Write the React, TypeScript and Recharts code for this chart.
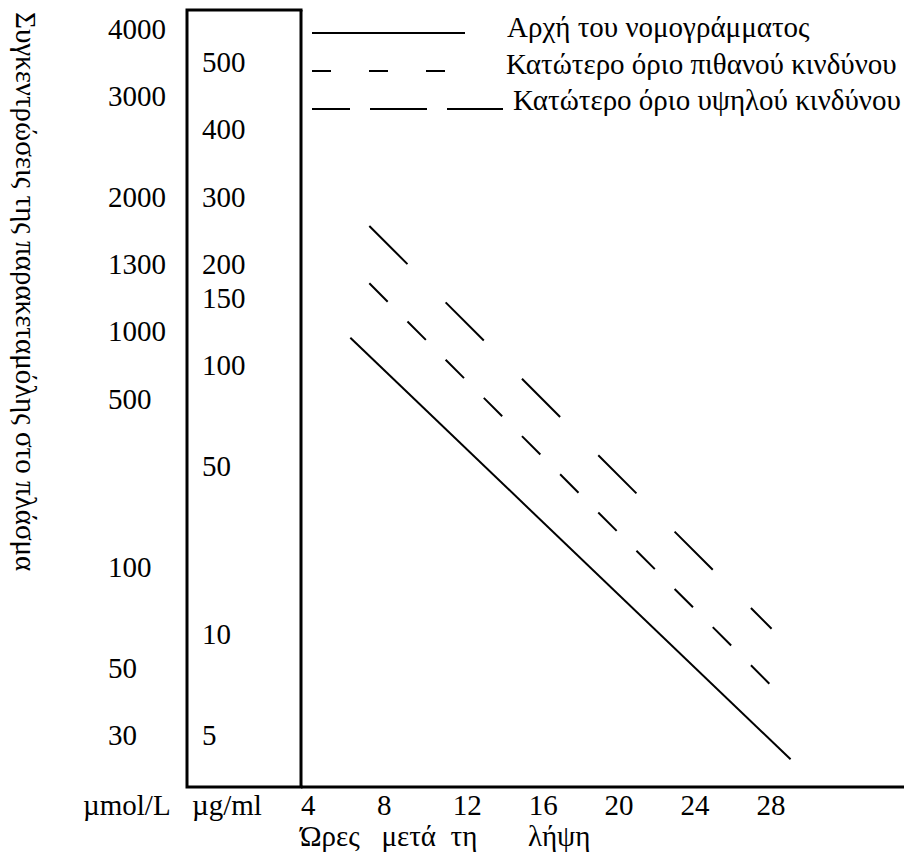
import React from 'react';
import { LineChart, Line, XAxis, YAxis, Legend } from 'recharts';

const FONT = '"Liberation Serif", "Times New Roman", serif';

// hours after ingestion
const hourTicks = [4, 8, 12, 16, 20, 24, 28];

// the two concentration columns sit on text rows, not on a true scale
const umolLabels = ['4000', '3000', '2000', '1300', '1000', '500', '100', '50', '30'];
const umolRows = [0, 2, 5, 7, 9, 11, 16, 19, 21];
const ugLabels = ['500', '400', '300', '200', '150', '100', '50', '10', '5'];
const ugRows = [1, 3, 5, 7, 8, 10, 13, 18, 21];

const seriesNames = [
  'Αρχή του νομογράμματος',
  'Κατώτερο όριο πιθανού κινδύνου',
  'Κατώτερο όριο υψηλού κινδύνου',
];

// line end points: hours, µg/ml
const nomogramHours = [6.6, 29.8];
const nomogramConc = [118, 4.3];
const probableHours = [7.6, 28.8];
const probableConc = [181, 7.65];
const highHours = [7.6, 28.8];
const highConc = [284, 12];

const toPoints = (hs: number[], cs: number[]) => hs.map((h, i) => ({ h, c: cs[i] }));

const txt = { fontFamily: FONT, fontSize: 29, fill: '#000' };

const rowTick = (labels: string[], rows: number[]) => (props: any) => {
  const { x, y, payload } = props;
  const i = rows.findIndex((r) => Math.abs(r - payload.value) < 1e-6);
  return (
    <text x={x} y={y} textAnchor="start" dominantBaseline="central" {...txt}>
      {labels[i]}
    </text>
  );
};

const HourTick = (props: any) => {
  const { x, y, payload } = props;
  return (
    <text x={x} y={y} textAnchor="start" dominantBaseline="central" {...txt}>
      {payload.value}
    </text>
  );
};

const UmolDecor = (props: any) => {
  const { x, y, height } = props.viewBox;
  return (
    <g>
      <text transform={`translate(${x + 8}, ${y + 2}) rotate(90)`} textAnchor="start" {...txt}>
        Συγκεντρώσεις της παρακεταμόλης στο πλάσμα
      </text>
      <text x={x + 75} y={y + height + 18} dominantBaseline="central" {...txt}>
        µmol/L
      </text>
    </g>
  );
};

const UgDecor = (props: any) => {
  const { x, y, width, height } = props.viewBox;
  return (
    <g>
      <path
        d={`M${x + width},${y} H${x} V${y + height} H${x + width}`}
        stroke="#000"
        strokeWidth={3}
        fill="none"
        strokeLinecap="square"
      />
      <text x={x + 5} y={y + height + 18} dominantBaseline="central" {...txt}>
        µg/ml
      </text>
    </g>
  );
};

const HourLabel = (props: any) => {
  const { x, y } = props.viewBox;
  return (
    <text x={x - 1} y={y + 59} style={{ whiteSpace: 'pre' }} {...txt}>
      {'Ώρες   μετά  τη       λήψη'}
    </text>
  );
};

const legendDash = [undefined, '19 38', '38 20 57 20 56 100'];
const legendEnd = [457, 438, 495];
const legendTextX = [499, 498, 505];

const renderLegend = (props: any) => {
  const payload = props.payload || [];
  return (
    <svg width={904} height={125} style={{ display: 'block' }}>
      {payload.map((entry: any) => {
        const i = seriesNames.indexOf(entry.value);
        return (
          <g key={entry.value}>
            <line
              x1={304}
              x2={legendEnd[i]}
              y1={25 + 38 * i}
              y2={25 + 38 * i}
              stroke="#000"
              strokeWidth={2}
              strokeDasharray={legendDash[i]}
            />
            <text x={legendTextX[i]} y={29 + 36.5 * i} {...txt}>
              {entry.value}
            </text>
          </g>
        );
      })}
    </svg>
  );
};

const frame = { stroke: '#000', strokeWidth: 3 };

export default function App() {
  return (
    <LineChart width={904} height={847} margin={{ top: 2, right: 0, bottom: 0, left: 0 }}>
      <XAxis
        xAxisId="h"
        type="number"
        dataKey="h"
        domain={[4, 36.2]}
        allowDataOverflow
        ticks={hourTicks}
        interval={0}
        tickLine={false}
        tickSize={0}
        tickMargin={18}
        tick={HourTick}
        axisLine={frame}
        height={68}
        label={HourLabel}
      />
      <XAxis
        xAxisId="top"
        orientation="top"
        type="number"
        domain={[4, 36.2]}
        allowDataOverflow
        tick={false}
        tickLine={false}
        axisLine={frame}
        height={0}
      />
      <YAxis
        yAxisId="ug"
        type="number"
        domain={[-0.55, 22.54]}
        allowDataOverflow
        reversed
        ticks={ugRows}
        interval={0}
        width={114}
        tickLine={false}
        tickSize={0}
        tickMargin={99}
        tick={rowTick(ugLabels, ugRows)}
        axisLine={frame}
        label={UgDecor}
      />
      <YAxis
        yAxisId="umol"
        type="number"
        domain={[-0.55, 22.54]}
        allowDataOverflow
        reversed
        ticks={umolRows}
        interval={0}
        width={179}
        tickLine={false}
        tickSize={0}
        tickMargin={79}
        tick={rowTick(umolLabels, umolRows)}
        axisLine={false}
        label={UmolDecor}
      />
      <YAxis
        yAxisId="conc"
        orientation="right"
        type="number"
        scale="log"
        domain={[3.46, 1549]}
        allowDataOverflow
        hide
      />
      <Legend
        layout="vertical"
        align="center"
        verticalAlign="middle"
        wrapperStyle={{ top: 0, left: 0, width: 904, height: 125 }}
        content={renderLegend}
      />
      <Line
        xAxisId="h"
        yAxisId="conc"
        data={toPoints(nomogramHours, nomogramConc)}
        dataKey="c"
        name={seriesNames[0]}
        stroke="#000"
        strokeWidth={2}
        dot={false}
        isAnimationActive={false}
      />
      <Line
        xAxisId="h"
        yAxisId="conc"
        data={toPoints(probableHours, probableConc)}
        dataKey="c"
        name={seriesNames[1]}
        stroke="#000"
        strokeWidth={2}
        strokeDasharray="26 28"
        dot={false}
        isAnimationActive={false}
      />
      <Line
        xAxisId="h"
        yAxisId="conc"
        data={toPoints(highHours, highConc)}
        dataKey="c"
        name={seriesNames[2]}
        stroke="#000"
        strokeWidth={2}
        strokeDasharray="54 54"
        dot={false}
        isAnimationActive={false}
      />
    </LineChart>
  );
}
